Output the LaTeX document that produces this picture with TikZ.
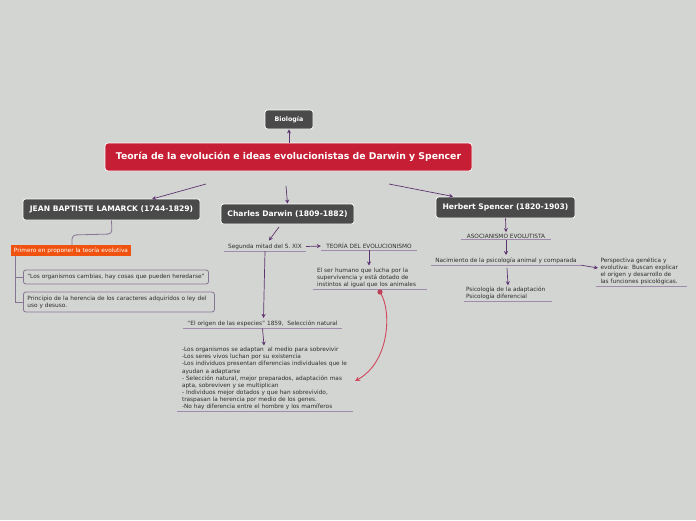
\documentclass[tikz,border=0pt]{standalone}
\usepackage{fontspec}
\setmainfont{DejaVu Sans}
\usetikzlibrary{arrows.meta}
\definecolor{bg}{HTML}{D3D5D2}
\definecolor{dark}{HTML}{4A4A4A}
\definecolor{mainred}{HTML}{C61F35}
\definecolor{orng}{HTML}{F0520F}
\definecolor{purp}{HTML}{5E3570}
\definecolor{lpurp}{HTML}{A08AAE}
\definecolor{curve}{HTML}{D0475E}
\definecolor{txt}{HTML}{2E2E2E}
\tikzset{
  darkbox/.style={fill=dark,draw=white,line width=0.8pt,rounded corners=2.5pt,text=white,font=\bfseries\fontsize{7.6}{9}\selectfont,inner xsep=6pt,inner ysep=0pt,minimum height=20pt},
  plain/.style={text=txt,font=\fontsize{5.8}{7.1}\selectfont,inner xsep=4pt,inner ysep=1.5pt},
  graybox/.style={plain,fill=bg,draw=lpurp!85!black,line width=0.8pt,rounded corners=2.5pt,inner xsep=4pt,inner ysep=2.5pt},
  arr/.style={draw=purp,line width=0.7pt,-{Stealth[length=4pt,width=4pt]}},
  uline/.style={draw=lpurp,line width=0.8pt},
  tree/.style={draw=lpurp!85!black,line width=0.8pt},
}
\begin{document}
\begin{tikzpicture}[x=1pt,y=-1pt]
\fill[bg] (0,0) rectangle (696,520);
\useasboundingbox (0,0) rectangle (696,520);

% top
\node[darkbox,font=\bfseries\fontsize{6.3}{8}\selectfont,minimum width=48pt,minimum height=19pt,inner xsep=3pt] (bio) at (289,119.5) {Biología};
\node[fill=mainred,draw=white,line width=0.8pt,rounded corners=3pt,text=white,font=\bfseries\fontsize{9.3}{11}\selectfont,minimum width=367pt,minimum height=28pt] (main) at (288.5,157) {Teoría de la evolución e ideas evolucionistas de Darwin y Spencer};
\draw[arr] (main.north -| bio.south) -- (bio.south);

\coordinate (m1) at (206,184);
\coordinate (m2) at (286,186);
\coordinate (m3) at (389,184);

\node[darkbox,minimum width=177pt,minimum height=21pt] (lam) at (111.5,209.5) {JEAN BAPTISTE LAMARCK (1744-1829)};
\node[darkbox,minimum width=133pt,minimum height=20pt] (dar) at (287.5,214) {Charles Darwin (1809-1882)};
\node[darkbox,minimum width=139pt,minimum height=21pt] (spe) at (505.5,207.5) {Herbert Spencer (1820-1903)};
\draw[arr] (m1) -- (152,199) coordinate (lamtop);
\draw[arr] (m2) -- (dar.north);
\draw[arr] (m3) -- (453,196.5);

% Lamarck branch
\node[fill=orng,text=white,font=\fontsize{5.8}{7}\selectfont,minimum width=120pt,minimum height=11pt,inner sep=0pt] (prim) at (71,250.5) {Primero en proponer la teoría evolutiva};
\draw[tree,rounded corners=4pt] (lam.south) -- (112,234) -- (72,235) -- (prim.north -| 72,0);
\node[graybox,anchor=west,minimum width=184pt,minimum height=14pt] (b1) at (23,277) {“Los organismos cambias, hay cosas que pueden heredarse”};
\node[graybox,anchor=west,text width=183pt,minimum height=20pt,align=left] (b2) at (23,302) {Principio de la herencia de los caracteres adquiridos o ley del\\uso y desuso.};
\draw[tree] (prim.south -| 15,0) -- (15,302) -- (b2.west);
\draw[tree] (15,277) -- (b1.west);

% Darwin branch
\node[plain,minimum width=82pt] (seg) at (265,246.5) {Segunda mitad del S. XIX};
\draw[uline] (seg.south west) -- (seg.south east);
\draw[arr] (279,227) -- (269,240.5);
\node[plain,minimum width=96pt] (teo) at (369,246) {TEORÍA DEL EVOLUCIONISMO};
\draw[uline] (teo.south west) -- (teo.south east);
\draw[arr] (seg.east) -- (teo.west);
\node[plain,text width=106pt,align=left,inner xsep=4pt] (ser) at (370,277.5) {El ser humano que lucha por la\\supervivencia y está dotado de\\instintos al igual que los animales};
\draw[uline] (ser.south west) -- (ser.south east);
\draw[arr] (teo.south) -- (369,265.5);

\node[plain,minimum width=155pt] (ori) at (262.5,324) {“El origen de las especies” 1859,\ \ Selección natural};
\draw[uline] (ori.south west) -- (ori.south east);
\draw[arr] (seg.south) ++(0,0) -- (263.5,318);
\node[plain,text width=166pt,align=left,inner xsep=5pt] (lst) at (265,378.5) {-Los organismos se adaptan\ \ al medio para sobrevivir\\-Los seres vivos luchan por su existencia\\-Los individuos presentan diferencias individuales que le\\ayudan a adaptarse\\- Selección natural, mejor preparados, adaptación mas\\apta, sobreviven y se multiplican\\- Individuos mejor dotados y que han sobrevivido,\\traspasan la herencia por medio de los genes.\\-No hay diferencia entre el hombre y los mamíferos};
\draw[uline] (lst.south west) -- (lst.south east);
\draw[arr] (ori.south) -- (264,345.5);

\coordinate (cstart) at (380,292);
\fill[curve!90!black] (cstart) circle (2.6pt);
\draw[curve,line width=0.9pt,-{Stealth[length=5pt,width=5pt]}] (cstart) .. controls (392,310) and (390,362) .. (355,381);

% Spencer branch
\node[plain,minimum width=90pt] (aso) at (506,236) {ASOCIANISMO EVOLUTISTA};
\draw[uline] (aso.south west) -- (aso.south east);
\draw[arr] (spe.south) -- (aso.north);
\node[plain,minimum width=148pt] (nac) at (506,260.5) {Nacimiento de la psicología animal y comparada};
\draw[uline] (nac.south west) -- (nac.south east);
\draw[arr] (aso.south) -- (506,255);
\node[plain,text width=82pt,align=left,inner xsep=4pt] (per) at (641.5,271.5) {Perspectiva genética y\\evolutiva: Buscan explicar\\el origen y desarrollo de\\las funciones psicológicas.};
\draw[uline] (per.south west) -- (per.south east);
\draw[arr] (nac.south east) -- (598,268);
\node[plain,text width=84pt,align=left,inner xsep=2pt] (psi) at (508,293.5) {Psicología de la adaptación\\Psicología diferencial};
\draw[uline] (psi.south west) -- (psi.south east);
\draw[arr] (507,268) -- (psi.north);
\end{tikzpicture}
\end{document}
